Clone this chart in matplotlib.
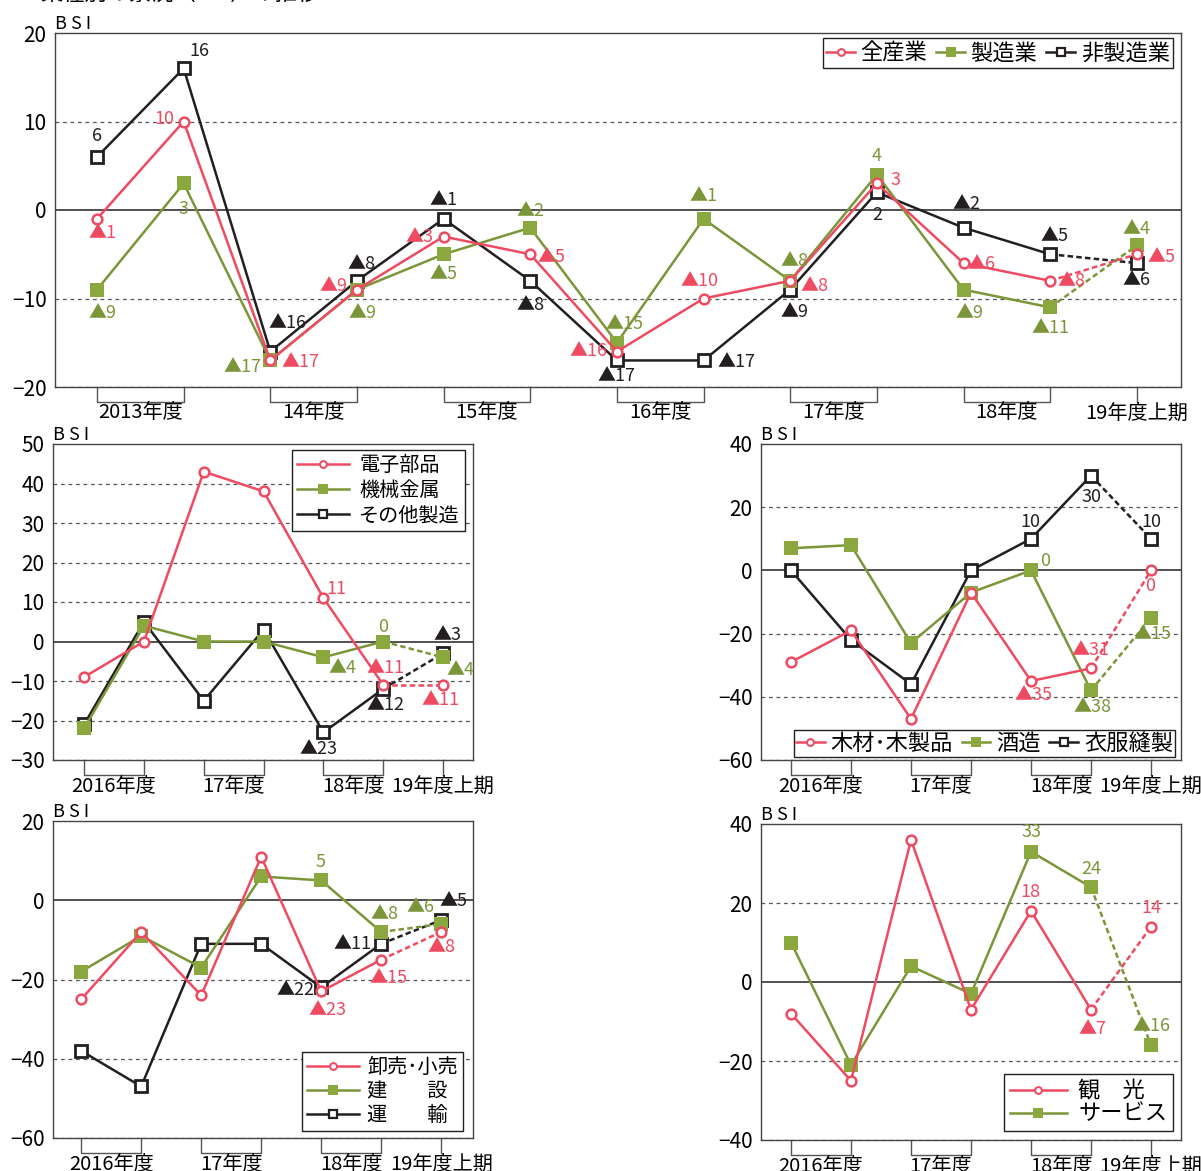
import matplotlib.pyplot as plt
from matplotlib.lines import Line2D
import matplotlib.transforms as mtransforms

plt.rcParams['font.family'] = ['Noto Sans CJK JP', 'DejaVu Sans']
plt.rcParams['axes.unicode_minus'] = True

RED = '#ee4b62'
GREEN = '#7b9639'
GREEN_FILL = '#8aa83d'
BLACK = '#231f20'
GRID = '#555555'

# ---- data ----
top_years = ['2013年度', '14年度', '15年度', '16年度', '17年度', '18年度', '19年度上期']
zensangyo = [-1, 10, -17, -9, -3, -5, -16, -10, -8, 3, -6, -8, -5]
seizo = [-9, 3, -17, -9, -5, -2, -15, -1, -8, 4, -9, -11, -4]
hiseizo = [6, 16, -16, -8, -1, -8, -17, -17, -9, 2, -2, -5, -6]

sub_years = ['2016年度', '17年度', '18年度', '19年度上期']
denshi = [-9, 0, 43, 38, 11, -11, -11]
kikai = [-22, 4, 0, 0, -4, 0, -4]
sonota = [-21, 5, -15, 3, -23, -12, -3]

mokuzai = [-29, -19, -47, -7, -35, -31, 0]
shuzo = [7, 8, -23, -7, 0, -38, -15]
ifuku = [0, -22, -36, 0, 10, 30, 10]

oroshi = [-25, -8, -24, 11, -23, -15, -8]
kensetsu = [-18, -9, -17, 6, 5, -8, -6]
unyu = [-38, -47, -11, -11, -22, -11, -5]

kanko = [-8, -25, 36, -7, 18, -7, 14]
service = [10, -21, 4, -3, 33, 24, -16]

STY = {
    'r': dict(color=RED, marker='o', mfc='white', mec=RED, ms=7, mew=1.8, tc=RED, z=4),
    'g': dict(color=GREEN, marker='s', mfc=GREEN_FILL, mec=GREEN_FILL, ms=9.5, mew=0, tc=GREEN, z=3),
    'k': dict(color=BLACK, marker='s', mfc='white', mec=BLACK, ms=8, mew=2, tc=BLACK, z=2),
}


def fmt(v):
    return '▲%d' % -v if v < 0 else '%d' % v


def series(ax, y, key, labels):
    s = STY[key]
    x = list(range(len(y)))
    ax.plot(x[:-1], y[:-1], color=s['color'], lw=1.8, zorder=s['z'])
    ax.plot(x[-2:], y[-2:], color=s['color'], lw=1.8, ls=(0, (2.2, 1.3)), zorder=s['z'])
    ax.plot(x, y, ls='none', marker=s['marker'], mfc=s['mfc'], mec=s['mec'],
            ms=s['ms'], mew=s['mew'], zorder=s['z'] + 0.5)
    for i, (dx, dy) in labels.items():
        ax.annotate(fmt(y[i]), (i, y[i]), xytext=(dx, dy), textcoords='offset pixels',
                    ha='center', va='center', color=s['tc'], fontsize=13, zorder=8)


def handle(key, ms_scale=0.7):
    s = STY[key]
    return Line2D([], [], color=s['color'], lw=1.8, marker=s['marker'], mfc=s['mfc'],
                  mec=s['mec'], ms=s['ms'] * ms_scale, mew=max(s['mew'] * 0.8, 0))


def frame(ax, ylim, step, xlim, years):
    ax.set_xlim(*xlim)
    ax.set_ylim(*ylim)
    ax.set_yticks(range(ylim[0], ylim[1] + 1, step))
    ax.set_xticks([])
    ax.tick_params(axis='y', length=0, pad=6, labelsize=15)
    for sp in ax.spines.values():
        sp.set_color('#444444')
        sp.set_linewidth(1.0)
    for v in range(ylim[0], ylim[1], step):
        if v != 0:
            ax.axhline(v, color=GRID, lw=0.9, ls=(0, (3, 3)), zorder=1)
    ax.axhline(0, color=BLACK, lw=1.1, zorder=1)
    fig = ax.figure
    hpx = ax.get_position().height * fig.get_size_inches()[1] * fig.dpi
    tr = mtransforms.blended_transform_factory(ax.transData, ax.transAxes)
    bh = 15 / hpx
    for k, lab in enumerate(years):
        if k < len(years) - 1:
            x0, x1 = 2 * k, 2 * k + 1
            ax.plot([x0, x0, x1, x1], [0, -bh, -bh, 0], color='#555555', lw=1.0,
                    transform=tr, clip_on=False)
            xc = (x0 + x1) / 2
        else:
            x0 = 2 * k
            ax.plot([x0, x0], [0, -bh], color='#555555', lw=1.0, transform=tr, clip_on=False)
            xc = x0
        ax.text(xc, -26 / hpx, lab, transform=tr, ha='center', va='center', fontsize=14.5)
    ax.text(0.0, 1.0, 'B S I', transform=ax.transAxes, ha='left', va='bottom', fontsize=13)


def legend(ax, keys, names, **kw):
    opts = dict(borderaxespad=0, fancybox=False, edgecolor=BLACK, framealpha=1, borderpad=0.25)
    opts.update(kw)
    lg = ax.legend([handle(k) for k in keys], names, **opts)
    lg.get_frame().set_linewidth(1.0)
    return lg


W, H = 1201, 1171
fig = plt.figure(figsize=(W / 100, H / 100), dpi=100)


def axes_px(l, t, r, b):
    return fig.add_axes([l / W, 1 - b / H, (r - l) / W, (b - t) / H])


fig.text(40 / W, 1.0, '業種別の景況（BSI）の推移', ha='left', va='baseline', fontsize=16)

# ---- top chart ----
ax = axes_px(55, 33, 1181, 387)
frame(ax, (-20, 20), 10, (-0.485, 12.51), top_years)
series(ax, hiseizo, 'k', {0: (0, 21), 1: (16, 17), 2: (17, 29), 3: (5, 17), 4: (0, 19),
                           5: (0, -24), 6: (0, -16), 7: (33, -2), 8: (4, -22), 9: (0, -23),
                           10: (3, 24), 11: (4, 18), 12: (0, -17)})
series(ax, seizo, 'g', {0: (5, -23), 1: (0, -26), 2: (-28, -7), 3: (5, -23), 4: (0, -20),
                        5: (0, 17), 6: (8, 19), 7: (0, 23), 8: (4, 20), 9: (0, 19),
                        10: (6, -23), 11: (0, -21), 12: (0, 16)})
series(ax, zensangyo, 'r', {0: (5, -14), 1: (-19, 2), 2: (30, -2), 3: (-24, 4), 4: (-24, 0),
                            5: (21, -3), 6: (-28, 1), 7: (-4, 18), 8: (24, -5), 9: (19, 3),
                            10: (18, -1), 11: (21, 0), 12: (25, -3)})
legend(ax, 'rgk', ['全産業', '製造業', '非製造業'], ncol=3, loc='upper right',
       bbox_to_anchor=(1 - 8 / 1126, 1 - 5 / 354), fontsize=16, handlelength=1.3,
       handletextpad=0.25, columnspacing=0.4, borderpad=0.15)

# ---- middle left ----
ax = axes_px(53, 444, 473, 760)
frame(ax, (-30, 50), 10, (-0.52, 6.5), sub_years)
series(ax, sonota, 'k', {4: (-5, -17), 5: (2, -16), 6: (4, 18)})
series(ax, kikai, 'g', {4: (19, -11), 5: (0, 15), 6: (17, -13)})
series(ax, denshi, 'r', {4: (13, 9), 5: (2, 17), 6: (-3, -15)})
legend(ax, 'rgk', ['電子部品', '機械金属', 'その他製造'], loc='upper right',
       bbox_to_anchor=(1 - 8 / 420, 1 - 6 / 316), fontsize=14.5, handlelength=2.6,
       handletextpad=0.5, labelspacing=0.2, borderpad=0.25)

# ---- middle right ----
ax = axes_px(761, 444, 1181, 760)
frame(ax, (-60, 40), 20, (-0.5, 6.5), sub_years)
series(ax, ifuku, 'k', {4: (-1, 17), 5: (0, -21), 6: (0, 17)})
series(ax, shuzo, 'g', {4: (14, 9), 5: (2, -17), 6: (1, -16)})
series(ax, mokuzai, 'r', {4: (2, -14), 5: (-1, 18), 6: (-1, -16)})
legend(ax, 'rgk', ['木材･木製品', '酒造', '衣服縫製'], ncol=3, loc='lower right',
       bbox_to_anchor=(1 - 6 / 420, 3 / 316), fontsize=16, handlelength=1.3,
       handletextpad=0.25, columnspacing=0.4, borderpad=0.1)

# ---- bottom left ----
ax = axes_px(53, 821, 473, 1138)
frame(ax, (-60, 20), 20, (-0.47, 6.53), sub_years)
series(ax, unyu, 'k', {4: (-26, -3), 5: (-29, 0), 6: (12, 19)})
series(ax, kensetsu, 'g', {4: (-1, 18), 5: (3, 18), 6: (-21, 17)})
series(ax, oroshi, 'r', {4: (6, -19), 5: (7, -18), 6: (0, -15)})
legend(ax, 'rgk', ['卸売･小売', '建　　設', '運　　輸'], loc='lower right',
       bbox_to_anchor=(1 - 10 / 420, 7 / 317), fontsize=14.5, handlelength=2.6,
       handletextpad=0.4, labelspacing=0.15, borderpad=0.25)

# ---- bottom right ----
ax = axes_px(761, 824, 1181, 1140)
frame(ax, (-40, 40), 20, (-0.5, 6.5), sub_years)
series(ax, service, 'g', {4: (0, 20), 5: (0, 18), 6: (0, 19)})
series(ax, kanko, 'r', {4: (-1, 19), 5: (1, -19), 6: (0, 19)})
legend(ax, 'rg', ['観　光', 'サービス'], loc='lower right',
       bbox_to_anchor=(1 - 8 / 420, 9 / 316), fontsize=16, handlelength=2.6,
       handletextpad=0.5, labelspacing=0.0, borderpad=0.25)

fig.savefig('out.png', dpi=100)
